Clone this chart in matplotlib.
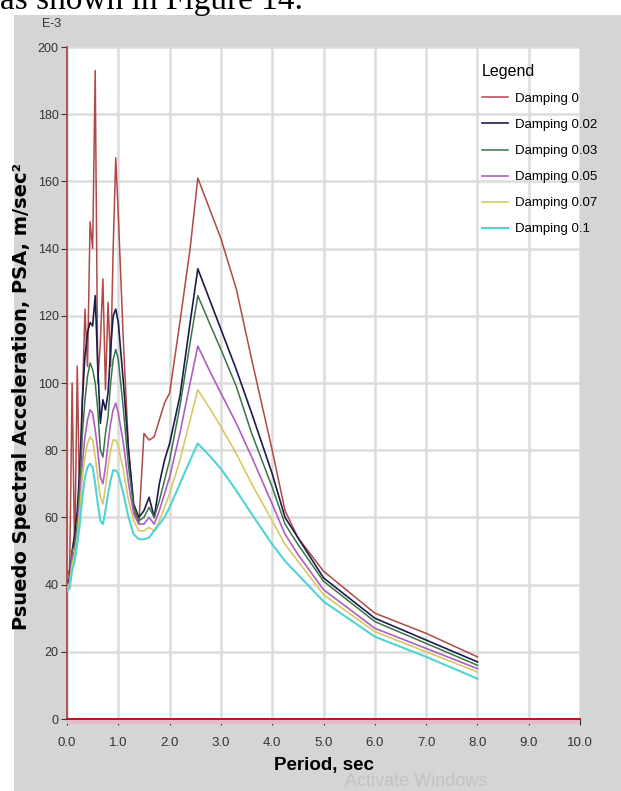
import matplotlib
matplotlib.use('Agg')
import matplotlib.pyplot as plt
from matplotlib.patches import Rectangle
from matplotlib import font_manager

# --- data (PSA in units of E-3 m/sec^2) ---
periods = [0.0, 0.05, 0.1, 0.15, 0.2, 0.25, 0.3, 0.35, 0.4, 0.45, 0.5, 0.55,
           0.6, 0.65, 0.7, 0.75, 0.8, 0.85, 0.9, 0.95, 1.0, 1.1, 1.2, 1.3,
           1.4, 1.5, 1.6, 1.7, 1.8, 1.9, 2.0, 2.2, 2.4, 2.55, 2.8, 3.0, 3.3,
           3.6, 4.0, 4.25, 4.5, 5.0, 6.0, 7.0, 8.0]

psa_d0 = [45, 42, 100, 48, 105, 60, 95, 122, 105, 148, 140, 193,
          100, 112, 131, 98, 124, 105, 140, 167, 150, 112, 80, 62,
          58, 85, 83, 84, 89, 94, 97, 118, 140, 161, 151, 143, 128,
          107, 80, 62, 54, 44, 31.5, 25.5, 18.5]
psa_d002 = [40, 42, 50, 55, 62, 75, 95, 108, 115, 118, 117, 126,
            105, 88, 95, 92, 97, 110, 120, 122, 118, 100, 80, 64,
            60, 62, 66, 60, 70, 77, 82, 96, 118, 134, 124, 116, 104,
            91, 73, 60, 54, 42, 30, 23.5, 17]
psa_d003 = [40, 41, 50, 52, 58, 70, 85, 95, 102, 106, 104, 100,
            92, 80, 78, 85, 90, 100, 107, 110, 107, 92, 75, 63,
            59, 60, 63, 60, 65, 71, 77, 93, 112, 126, 117, 110, 99,
            85, 69, 58, 52, 41, 29, 22.5, 16]
psa_d005 = [40, 41, 48, 50, 55, 65, 76, 84, 89, 92, 91, 86,
            80, 72, 70, 75, 82, 88, 92, 94, 91, 82, 70, 61,
            58, 58, 60, 58, 62, 67, 72, 85, 100, 111, 103, 97, 88,
            78, 64, 55, 49, 38.5, 27, 21, 15]
psa_d007 = [39, 40, 46, 49, 54, 62, 72, 78, 82, 84, 83, 78,
            72, 66, 64, 69, 75, 80, 83, 83, 81, 74, 65, 59,
            56, 56, 57, 56, 59, 63, 67, 77, 89, 98, 92, 87, 79,
            70, 59, 52, 47, 37, 26, 20, 14]
psa_d01 = [38, 39, 44, 47, 52, 58, 66, 72, 75, 76, 75, 70,
           64, 59, 58, 62, 67, 71, 74, 74, 73, 67, 60, 55,
           53.5, 53.5, 54, 56, 58, 60, 63, 70, 77, 82, 78, 74.5, 68,
           61, 52, 47, 43, 35, 24.5, 18.5, 12]

labels = ['Damping 0', 'Damping 0.02', 'Damping 0.03', 'Damping 0.05',
          'Damping 0.07', 'Damping 0.1']
x_ticks = [0, 1, 2, 3, 4, 5, 6, 7, 8, 9, 10]
y_ticks = [0, 20, 40, 60, 80, 100, 120, 140, 160, 180, 200]

series = [psa_d0, psa_d002, psa_d003, psa_d005, psa_d007, psa_d01]
colors = ['#b04848', '#1c1c4c', '#3a7446', '#b05ec0', '#d8c864', '#4fd4d6']
widths = [1.1, 1.2, 1.1, 1.2, 1.2, 1.5]

# pick a condensed face if one is installed, else Liberation Sans (Arial-like)
installed = {f.name for f in font_manager.fontManager.ttflist}
narrow = [n for n in ['Liberation Sans Narrow', 'DejaVu Sans Condensed']
          if n in installed] + ['Liberation Sans', 'DejaVu Sans']

params = {'font.size': 10,
          'xtick.major.size': 4,
          'ytick.major.size': 4,
          'ytick.major.pad': 2,
          'xtick.color': '#333333',
          'ytick.color': '#333333',
          'lines.linestyle': '-'}
plt.rcParams.update(params)

fig = plt.figure(figsize=(6.21, 7.91), dpi=100)
fig.patch.set_facecolor('white')

# grey panel around the chart
fig.patches.append(Rectangle((14 / 621, 0), 1, 1 - 15 / 791,
                             transform=fig.transFigure, facecolor='#d5d5d5',
                             edgecolor='none', zorder=-10))

# bit of document text cut at the top
fig.text(0.0, 1 - 9 / 791, 'as shown in Figure 14.', family='Liberation Serif',
         fontsize=24, va='baseline', ha='left', color='black', zorder=-5)

ax = fig.add_axes([67 / 621, 1 - 719 / 791, 513 / 621, 672 / 791])
ax.set_facecolor('white')

for vals, lab, col, lw in zip(series, labels, colors, widths):
    ax.plot(periods, vals, color=col, lw=lw, label=lab, zorder=3)

ax.set_xlim(0, 10)
ax.set_ylim(0, 200)
ax.set_xticks(x_ticks)
ax.set_xticklabels([f'{t:.1f}' for t in x_ticks], family=narrow, fontsize=9.5)
ax.set_yticks(y_ticks)
ax.set_yticklabels([str(t) for t in y_ticks], family=narrow, fontsize=9)
ax.tick_params(axis='x', pad=9)
ax.grid(True, color='#dcdcdc', lw=1.8, zorder=0)
ax.set_axisbelow(True)

for s in ['top', 'right']:
    ax.spines[s].set_visible(False)
ax.spines['left'].set_color('#a8403c')
ax.spines['left'].set_linewidth(1.2)
ax.spines['bottom'].set_color('#c01020')
ax.spines['bottom'].set_linewidth(1.4)
ax.spines['bottom'].set_zorder(4)

# pink strip under the x axis
ax.add_patch(Rectangle((0, -0.0075), 1, 0.0075, transform=ax.transAxes,
                       facecolor='#e7b9c4', edgecolor='none', clip_on=False,
                       zorder=1))

ax.set_xlabel('Period, sec', family=narrow, fontweight='bold', fontsize=13.5,
              color='black', labelpad=6)
ax.set_ylabel('Psuedo Spectral Acceleration, PSA, m/sec²', fontweight='bold',
              fontsize=14, color='black')
ax.yaxis.set_label_coords(-0.07, 0.48)

fig.text(42 / 621, 1 - 24 / 791, 'E-3', family=narrow, fontsize=9,
         color='#333333', ha='left', va='center')

leg = ax.legend(loc='upper left', bbox_to_anchor=(470 / 621, 1 - 52 / 791),
                bbox_transform=fig.transFigure, frameon=False, title='Legend',
                prop={'family': narrow, 'size': 9.5}, handlelength=2.0,
                handletextpad=0.5, labelspacing=1.05, alignment='left')
leg.get_title().set_fontfamily(narrow)
leg.get_title().set_fontsize(11.5)

fig.text(345 / 621, 1 - 782 / 791, 'Activate Windows', family=narrow,
         fontsize=13, color='#c2c2c2', ha='left', va='center')

fig.savefig('out.png', dpi=100)
